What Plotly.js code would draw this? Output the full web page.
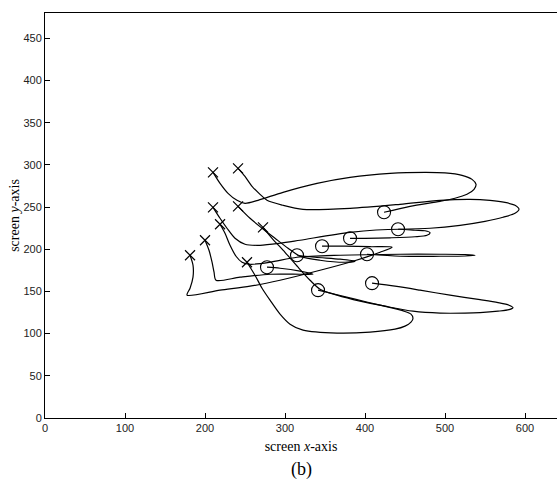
<!DOCTYPE html>
<html>
<head>
<meta charset="utf-8">
<script src="https://cdn.plot.ly/plotly-3.0.1.min.js"></script>
<style>html,body{margin:0;padding:0;background:#fff;}#chart{width:557px;height:486px;}</style>
</head>
<body>
<div id="chart"></div>
<script>
// Trajectory values (screen coordinates), start marked by x, end by circle
const t1x = [210, 218.8, 228.8, 240, 250, 266.3, 297.5, 340, 381.3, 431.3, 475, 500, 521.3, 533.8, 538.8, 536.3, 527.5, 512.5, 493.8, 456.3, 423.8];
const t1y = [291.1, 278.1, 266.3, 258, 254.4, 258, 267.5, 278.1, 285.2, 289.9, 291.1, 290.5, 287.6, 282.8, 276.9, 271, 265.1, 260.4, 256.8, 250.9, 243.8];

const t2x = [241.3, 250, 258.8, 268.8, 277.5, 297.5, 322.5, 381.3, 443.8, 493.8, 531.3, 556.3, 575, 587.5, 592.5, 587.5, 572.5, 550, 518.8, 481.3, 441.3];
const t2y = [295.9, 286.4, 274.6, 265.1, 258, 252.1, 247.3, 248.5, 253.3, 258, 259.2, 258, 255.6, 252.1, 247.3, 242.6, 237.9, 233.1, 228.4, 224.9, 223.7];

const t3x = [210, 218.8, 227.5, 237.5, 250, 268.8, 293.8, 318.8, 381.3, 443.8, 462.5, 475, 481.3, 477.5, 462.5, 431.3, 400, 381.3];
const t3y = [249.7, 236.7, 224.9, 213, 205.9, 204.7, 207.1, 210.7, 220.1, 223.7, 222.5, 221.9, 219.5, 216.6, 214.8, 213.6, 213, 213];

const t4x = [241.3, 256.3, 271.3, 287.5, 303.8, 318.8, 343.8, 375, 387.5, 368.8, 337.5, 315];
const t4y = [250.9, 236.7, 224.9, 213, 201.2, 191.7, 187, 184.6, 185.8, 188.2, 190.5, 192.9];

const t5x = [218.8, 225, 231.3, 238.8, 246.3, 256.3, 281.3, 315, 368.8, 443.8, 493.8, 525, 537.5, 525, 493.8, 443.8, 402.5];
const t5y = [229.6, 218.9, 204.7, 191.7, 184.6, 182.2, 184.6, 190.5, 192.9, 194.1, 194.1, 193.8, 192.9, 192, 191.7, 191.7, 194.1];

const t6x = [272.5, 283.8, 300, 316.3, 331.3, 343.8, 365, 393.8, 425, 460, 493.8, 525, 543.8, 566.3, 580, 585, 580, 566.3, 543.8, 506.3, 468.8, 437.5, 408.8];
const t6y = [226, 213, 196.4, 178.7, 163.3, 152.7, 145.6, 138.5, 132.5, 126.6, 124.3, 124.3, 124.9, 126.6, 128.4, 130.8, 133.7, 136.7, 140.2, 145.6, 151.5, 156.2, 159.8];

const t7x = [200, 205, 208.8, 211.3, 213.8, 243.8, 281.3, 318.8, 335, 318.8, 293.8, 277.5];
const t7y = [210.7, 198.8, 184.6, 172.8, 163.3, 166.9, 170.4, 170.4, 170.4, 174, 177.5, 178.7];

const t8x = [181.3, 185, 185, 181.3, 177.5, 218.8, 256.3, 293.8, 343.8, 385, 418.8, 433.8, 406.3, 375, 346.3];
const t8y = [192.9, 181.1, 166.9, 153.8, 145.6, 151.5, 156.2, 163.3, 175.1, 185.8, 196.4, 202.4, 203, 203.6, 203.6];

const t9x = [252.5, 262.5, 271.3, 281.3, 293.8, 306.3, 322.5, 365, 406.3, 437.5, 450, 457.5, 460, 457.5, 448.8, 418.8, 387.5, 362.5, 341.3];
const t9y = [184.6, 169.2, 153.8, 139.6, 123.1, 111.2, 104.1, 100.6, 101.8, 105.3, 108.9, 113.6, 118.3, 123.1, 126.6, 133.7, 140.8, 146.7, 151.5];

const xTicks = [0, 100, 200, 300, 400, 500, 600];
const yTicks = [0, 50, 100, 150, 200, 250, 300, 350, 400, 450];

const tracks = [[t1x, t1y], [t2x, t2y], [t3x, t3y], [t4x, t4y], [t5x, t5y], [t6x, t6y], [t7x, t7y], [t8x, t8y], [t9x, t9y]];

const data = [];
tracks.forEach(([xs, ys]) => {
  data.push({x: xs, y: ys, mode: 'lines', type: 'scatter', hoverinfo: 'skip',
    line: {color: '#000', width: 1.2, shape: 'spline', smoothing: 0.8}});
});
data.push({x: tracks.map(t => t[0][0]), y: tracks.map(t => t[1][0]), mode: 'markers', type: 'scatter',
  marker: {symbol: 'x-thin-open', size: 10, color: '#000', line: {color: '#000', width: 1.2}}});
data.push({x: tracks.map(t => t[0][t[0].length - 1]), y: tracks.map(t => t[1][t[1].length - 1]), mode: 'markers', type: 'scatter',
  marker: {symbol: 'circle-open', size: 13, color: '#000', line: {color: '#000', width: 1.1}}});

const layout = {
  width: 557, height: 486,
  margin: {l: 45, r: 0, t: 13, b: 68},
  paper_bgcolor: '#fff', plot_bgcolor: '#fff',
  showlegend: false,
  xaxis: {range: [0, 640], tickvals: xTicks, ticks: 'inside', ticklen: 5, tickcolor: '#000',
    showgrid: false, zeroline: false, showline: true, linecolor: '#000', linewidth: 1, mirror: true,
    tickfont: {family: 'Liberation Sans, Arial, sans-serif', size: 11, color: '#222'},
    title: {text: 'screen <i>x</i>-axis', font: {family: 'Liberation Serif, Times New Roman, serif', size: 14, color: '#000'}, standoff: 7}},
  yaxis: {range: [0, 480], tickvals: yTicks, ticks: 'inside', ticklen: 5, tickcolor: '#000',
    showgrid: false, zeroline: false, showline: true, linecolor: '#000', linewidth: 1,
    tickfont: {family: 'Liberation Sans, Arial, sans-serif', size: 11, color: '#222'},
    title: {text: 'screen <i>y</i>-axis', font: {family: 'Liberation Serif, Times New Roman, serif', size: 14, color: '#000'}, standoff: 0}},
  annotations: [{text: '(b)', xref: 'paper', yref: 'paper', x: 0.5, y: -0.128, showarrow: false,
    xanchor: 'center', yanchor: 'middle', font: {family: 'Liberation Serif, Times New Roman, serif', size: 18, color: '#000'}}]
};

Plotly.newPlot('chart', data, layout, {displayModeBar: false, staticPlot: true});
</script>
</body>
</html>
